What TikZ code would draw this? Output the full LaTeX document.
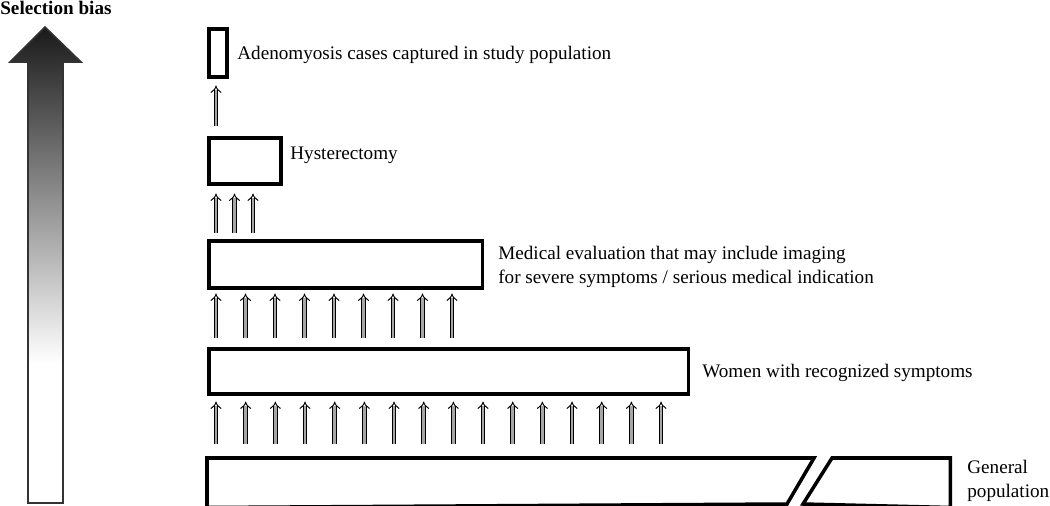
\documentclass[tikz,border=0pt]{standalone}
\usepackage{fontspec}
\setmainfont{Liberation Serif}
\usetikzlibrary{arrows.meta,positioning,calc}

\pgfdeclareverticalshading{biasfade}{100bp}{color(0bp)=(white); color(39.7bp)=(white); color(75bp)=(black!90); color(100bp)=(black!90)}

\begin{document}
\begin{tikzpicture}[x=0.02cm,y=-0.02cm,
        box/.style={draw, line width=2pt, inner sep=0pt, anchor=north west},
        lbl/.style={anchor=base west, inner sep=0pt, align=left, font=\fontsize{10.9}{13.1}\selectfont},
        up/.style={double distance=1.6pt, line width=0.55pt, double=black!35, -{Implies}}]
            \useasboundingbox (0,0) rectangle (1050,506);
            % selection bias arrow
            \node[lbl, font=\bfseries\fontsize{10.9}{13.1}\selectfont] (bias) at (0,15) {Selection bias};
            \shadedraw[shading=biasfade, draw=black!80, line width=0.9pt]
                (45,27) -- (10,62) -- (28,62) -- (28,503) -- (63,503) -- (63,62) -- (81,62) -- cycle;
            % boxes
            \node[box, minimum width=0.36cm, minimum height=0.96cm] (adeno) at (207,27) {};
            \node[box, minimum width=1.44cm, minimum height=0.92cm] (hyst) at (207,136) {};
            \node[box, minimum width=5.48cm, minimum height=0.94cm] (medeval) at (207,239) {};
            \node[box, minimum width=9.6cm, minimum height=0.9cm] (women) at (207,347) {};
            \node[box, draw=none, minimum width=14.8cm, minimum height=0.92cm] (genpop) at (207,458) {};
            \draw[line width=2pt] (genpop.north west) -- (814,458) -- (787,504) -- (genpop.south west) -- cycle;
            \draw[line width=2pt] (832,458) -- (genpop.north east) -- (genpop.south east) -- (803,504) -- cycle;
            % labels (base of a two-line label is its last line)
            \node[lbl] (adeno_txt) at (237,60) {Adenomyosis cases captured in study population};
            \node[lbl] (hyst_txt) at (290,160) {Hysterectomy};
            \node[lbl] (medeval_txt) at (498,283) {Medical evaluation that may include imaging\\for severe symptoms / serious medical indication};
            \node[lbl] (women_txt) at (702,377) {Women with recognized symptoms};
            \node[lbl] (genpop_txt) at (967,497) {General\\population};
            % arrows between the levels
            \foreach \i in {0,...,15}
                \draw[up] ($(genpop.north west)+(9+29.67*\i,-14)$) -- ($(women.south west)+(9+29.67*\i,6)$);
            \foreach \i in {0,...,8}
                \draw[up] ($(women.north west)+(9+29.5*\i,-9)$) -- ($(medeval.south west)+(9+29.5*\i,4)$);
            \foreach \i in {0,...,2}
                \draw[up] ($(medeval.north west)+(9+18.5*\i,-6)$) -- ($(hyst.south west)+(9+18.5*\i,8)$);
            \draw[up] ($(hyst.north west)+(9,-10)$) -- ($(adeno.south west)+(9,7)$);
\end{tikzpicture}
\end{document}
